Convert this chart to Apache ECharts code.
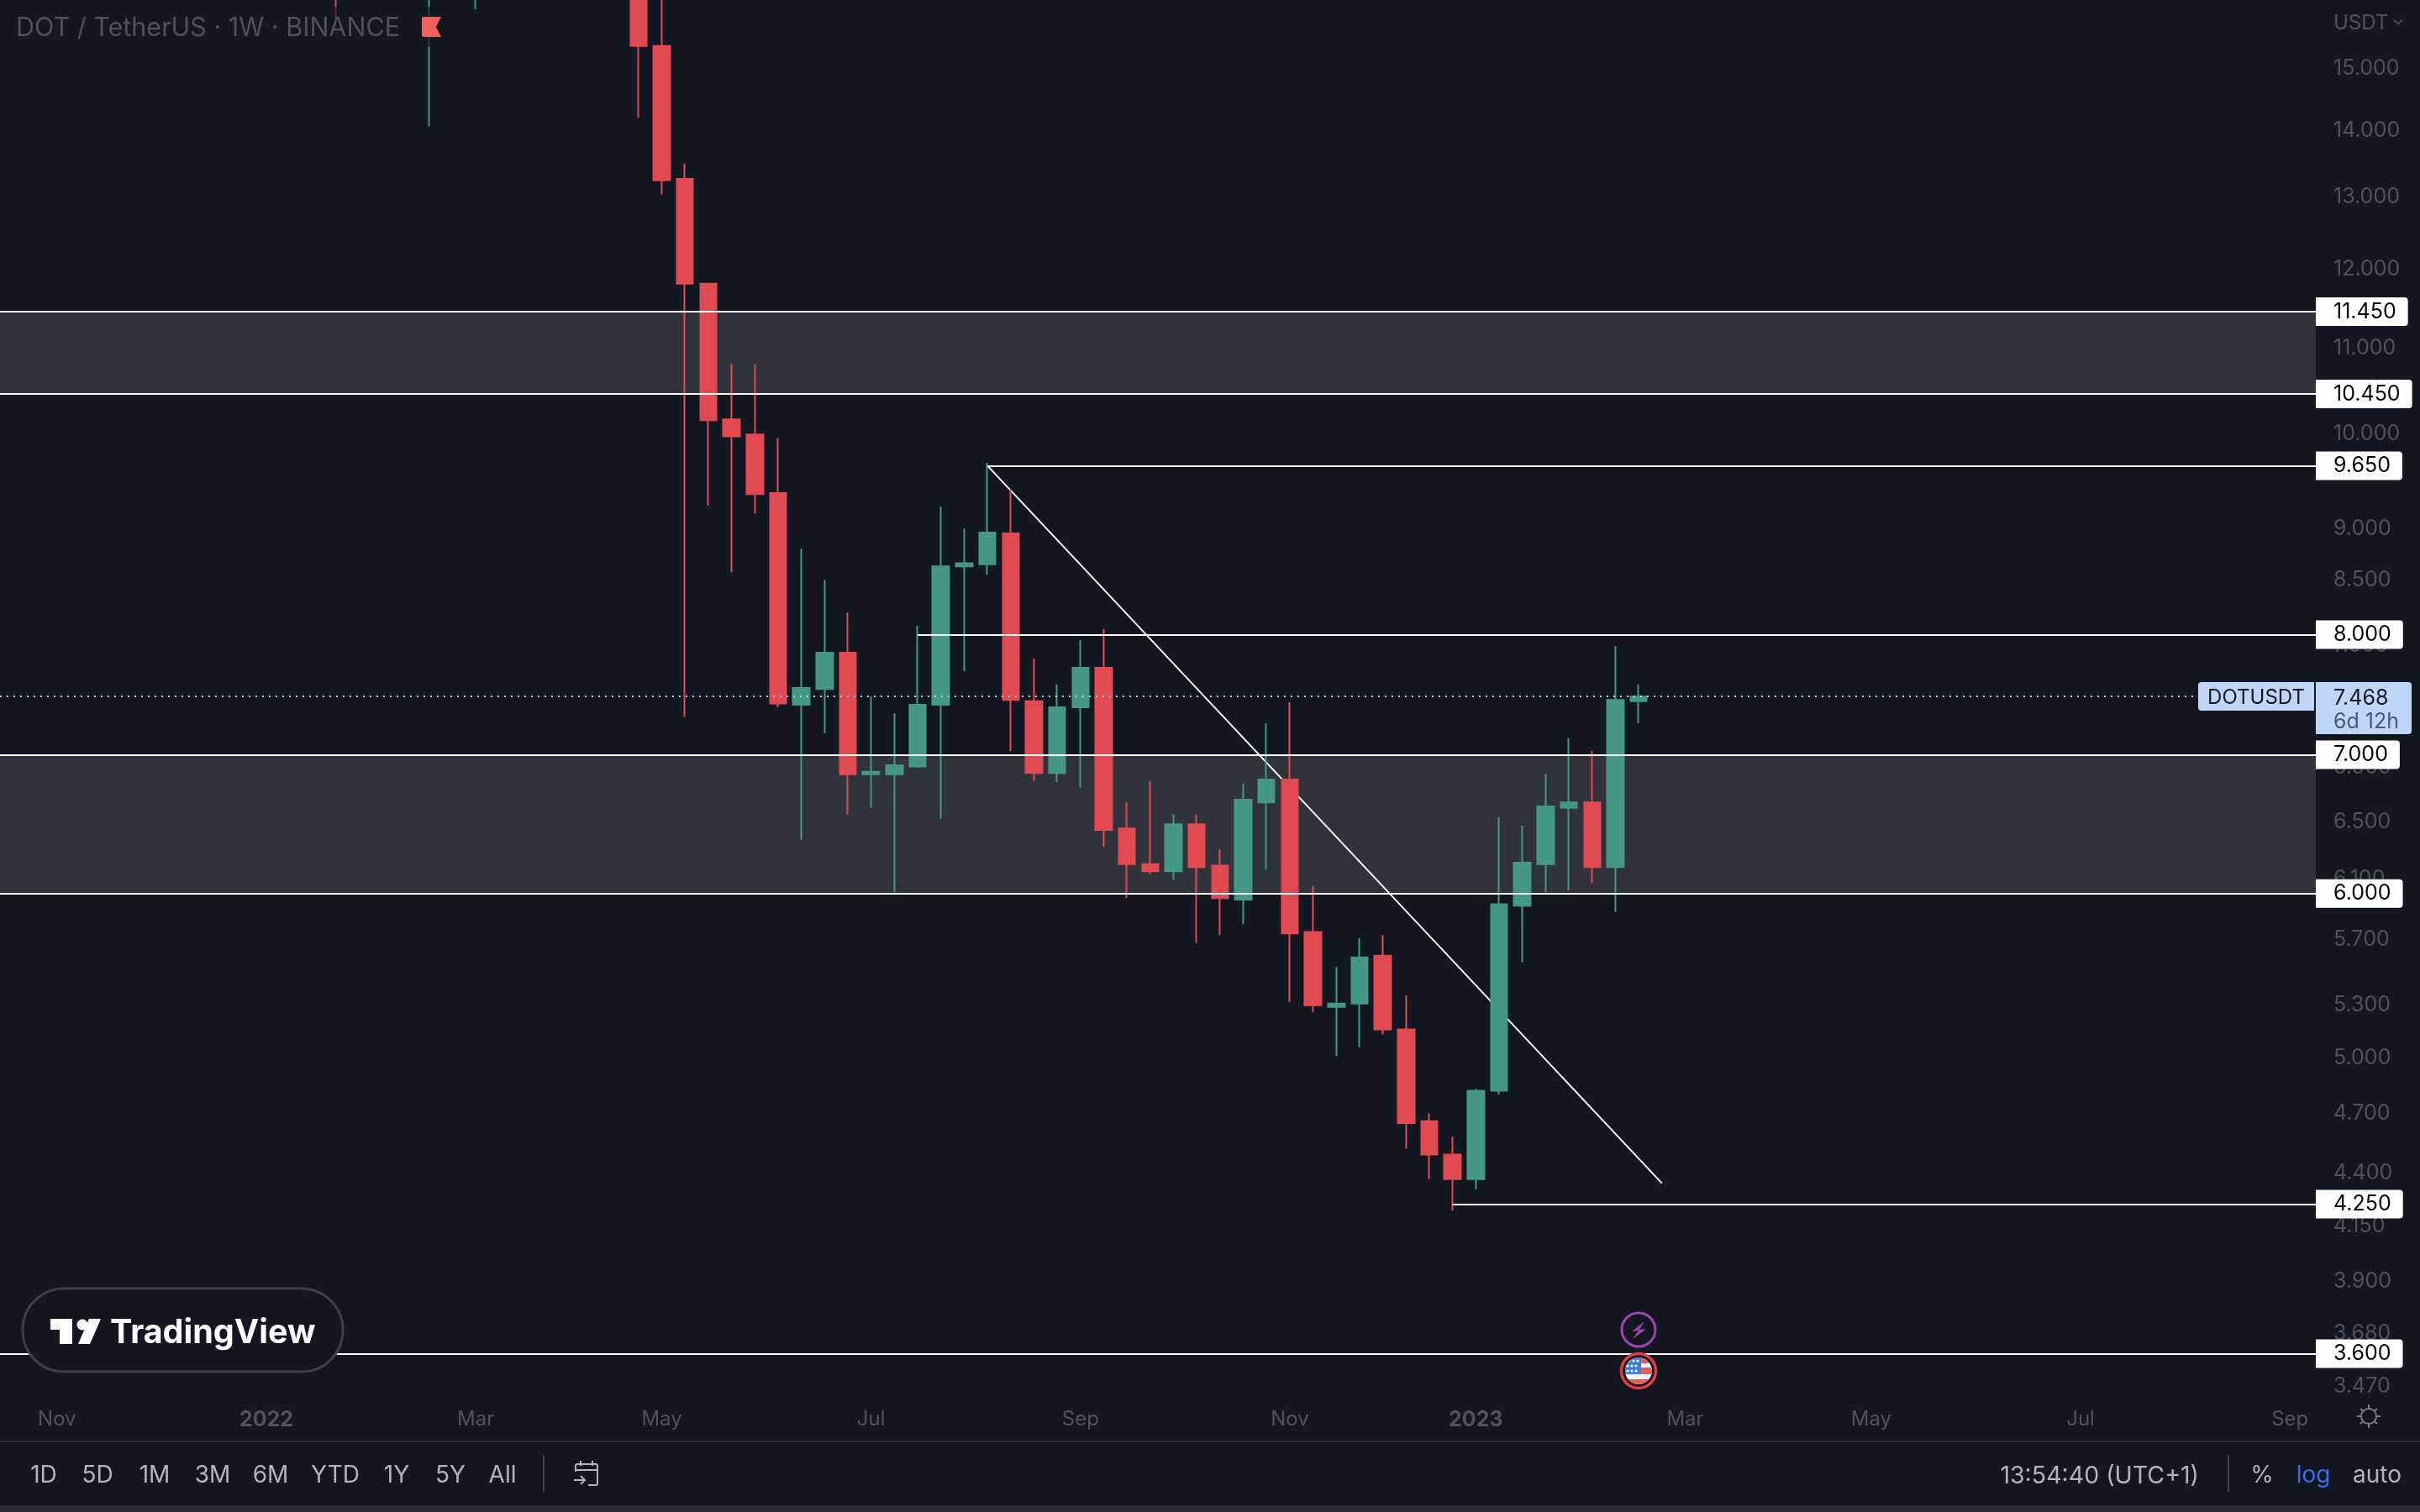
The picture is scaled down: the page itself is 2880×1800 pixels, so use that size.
<!DOCTYPE html>
<html>
<head>
<meta charset="utf-8">
<title>DOT / TetherUS 1W</title>
<script src="https://cdn.jsdelivr.net/npm/echarts@6/dist/echarts.min.js"></script>
<style>
    html, body { margin: 0; padding: 0; background: #131722; }
    #chart { width: 2880px; height: 1800px; }
</style>
</head>
<body>
<div id="chart"></div>
<script>
// weekly bars that show in the window (bars between Mar and late Apr 2022 sit above the top edge)
const weeks = ['2022-01-24', '2022-02-21', '2022-03-07', '2022-04-25', '2022-05-02', '2022-05-09', '2022-05-16', '2022-05-23',
    '2022-05-30', '2022-06-06', '2022-06-13', '2022-06-20', '2022-06-27', '2022-07-04', '2022-07-11', '2022-07-18',
    '2022-07-25', '2022-08-01', '2022-08-08', '2022-08-15', '2022-08-22', '2022-08-29', '2022-09-05', '2022-09-12',
    '2022-09-19', '2022-09-26', '2022-10-03', '2022-10-10', '2022-10-17', '2022-10-24', '2022-10-31', '2022-11-07',
    '2022-11-14', '2022-11-21', '2022-11-28', '2022-12-05', '2022-12-12', '2022-12-19', '2022-12-26', '2023-01-02',
    '2023-01-09', '2023-01-16', '2023-01-23', '2023-01-30', '2023-02-06', '2023-02-13', '2023-02-20'];
const opens = [18.5, 17.0, 17.2, 17.5, 15.38, 13.27, 11.81, 10.16,
    9.99, 9.36, 7.40, 7.53, 7.84, 6.85, 6.85, 6.91,
    7.40, 8.63, 8.65, 8.95, 7.43, 6.86, 7.38, 7.71,
    6.45, 6.20, 6.15, 6.48, 6.19, 5.96, 6.64, 6.81,
    5.75, 5.29, 5.31, 5.60, 5.16, 4.66, 4.49, 4.37,
    4.82, 5.92, 6.20, 6.60, 6.64, 6.18, 7.43];
const closes = [17.2, 18.0, 18.5, 15.38, 13.25, 11.81, 10.15, 9.97,
    9.35, 7.41, 7.54, 7.84, 6.85, 6.87, 6.92, 7.40,
    8.63, 8.66, 8.96, 7.44, 6.86, 7.38, 7.71, 6.44,
    6.20, 6.15, 6.48, 6.18, 5.97, 6.66, 6.81, 5.74,
    5.30, 5.31, 5.59, 5.16, 4.65, 4.49, 4.37, 4.82,
    5.93, 6.21, 6.61, 6.64, 6.18, 7.44, 7.468];
const lows = [15.85, 14.07, 16.02, 14.20, 13.04, 7.30, 9.23, 8.57,
    9.15, 7.38, 6.37, 7.17, 6.55, 6.60, 6.01, 6.90,
    6.52, 7.68, 8.55, 7.03, 6.80, 6.79, 6.75, 6.32,
    5.97, 6.13, 6.09, 5.68, 5.73, 5.80, 6.16, 5.32,
    5.26, 5.01, 5.06, 5.13, 4.52, 4.37, 4.22, 4.32,
    4.80, 5.56, 6.01, 6.02, 6.07, 5.88, 7.25];
const highs = [19.0, 19.0, 19.0, 18.5, 16.8, 13.50, 11.81, 10.81,
    10.80, 9.95, 8.80, 8.50, 8.20, 7.47, 7.33, 8.08,
    9.22, 9.00, 9.68, 9.40, 7.79, 7.57, 7.95, 8.05,
    6.64, 6.80, 6.55, 6.55, 6.30, 6.78, 7.25, 7.42,
    6.05, 5.53, 5.71, 5.73, 5.36, 4.70, 4.58, 4.83,
    6.53, 6.47, 6.85, 7.13, 7.03, 7.90, 7.57];

const lastPrice = 7.468;

// price axis labels
const priceTicks = [15, 14, 13, 12, 11, 10, 9, 8.5, 7.9, 6.9, 6.5, 6.1, 5.7, 5.3, 5, 4.7, 4.4, 4.15, 3.9, 3.68, 3.47];

// time axis labels
const timeTickDates = ['2021-11-01', '2022-01-03', '2022-03-07', '2022-05-02', '2022-07-04', '2022-09-05',
    '2022-11-07', '2023-01-02', '2023-03-06', '2023-05-01', '2023-07-03', '2023-09-04'];
const timeTickLabels = ['Nov', '2022', 'Mar', 'May', 'Jul', 'Sep', 'Nov', '2023', 'Mar', 'May', 'Jul', 'Sep'];

// horizontal levels: price and the week each line starts from (null = from the left edge)
const levelPrices = [11.45, 10.45, 9.65, 8, 7, 6, 4.25, 3.6];
const levelStarts = [null, null, '2022-08-08', '2022-07-18', null, null, '2022-12-26', null];

// shaded zones
const zones = [[10.45, 11.45], [6, 7]];

// trend line
const trendDates = ['2022-08-08', '2023-02-27'];
const trendPrices = [9.65, 4.35];

const timeOf = (day) => Date.parse(day + 'T00:00:00Z');
const viewStart = Date.parse('2021-10-14T20:10:00Z');
const viewEnd = Date.parse('2023-09-11T19:00:00Z');

const BG = '#131722';
const DIM = '#50535e';
const TOOL = '#b2b5be';
const UP = '#459883';
const DOWN = '#e04a50';
const FONT = 'Inter, "Noto Sans", sans-serif';

function svgUrl(body, w, h) {
    const svg = `<svg xmlns="http://www.w3.org/2000/svg" width="${w}" height="${h}" viewBox="0 0 ${w} ${h}">${body}</svg>`;
    return 'data:image/svg+xml;charset=utf-8,' + encodeURIComponent(svg);
}

function uiIcon(body, x, y, w, h) {
    return { type: 'image', z: 110, style: { image: svgUrl(body, w, h), x: x, y: y, width: w, height: h } };
}

function uiText(text, x, y, color, size, align, weight) {
    return {
        type: 'text', z: 110,
        style: {
            text: text, x: x, y: y, fill: color, align: align || 'left', verticalAlign: 'middle',
            font: `${weight || 400} ${size}px ${FONT}`
        }
    };
}

function uiRect(x, y, w, h, fill, r, z) {
    return { type: 'rect', z: z || 100, shape: { x: x, y: y, width: w, height: h, r: r || 0 }, style: { fill: fill } };
}

const gearIcon = '<g fill="none" stroke="#787b86" stroke-width="2"><circle cx="15" cy="15" r="9"/>'
    + '<path d="M15 1v5M15 24v5M1 15h5M24 15h5M5 6l4 3.500M25 6l-4 3.500M5 24l4-3.500M25 24l-4-3.500"/></g>';
const calendarIcon = '<g fill="none" stroke="#b2b5be" stroke-width="2"><path d="M3 13V6a2 2 0 0 1 2-2h22a2 2 0 0 1 2 2v21a2 2 0 0 1-2 2h-9"/>'
    + '<path d="M3 11h26M9 0v6M23 0v6M1 23h13M9 18l5 5-5 5"/></g>';
const boltIcon = '<circle cx="23" cy="23" r="20" fill="#131722" stroke="#9c45b0" stroke-width="3"/>'
    + '<path d="M30 13L15 25L23 24L16 34L32 22L24 23Z" fill="#9c45b0"/>';
const flagIcon = '<defs><clipPath id="c"><circle cx="24" cy="24" r="16"/></clipPath></defs>'
    + '<circle cx="24" cy="24" r="20.500" fill="#131722" stroke="#e03c42" stroke-width="3.500"/>'
    + '<g clip-path="url(#c)"><rect width="48" height="48" fill="#f2f2f2"/>'
    + '<rect x="8" y="9" width="32" height="6" fill="#e0605a"/><rect x="8" y="20" width="32" height="8" fill="#e0605a"/>'
    + '<rect x="8" y="34" width="32" height="6" fill="#e0605a"/><rect x="8" y="8" width="19" height="20" fill="#3d7fdd"/>'
    + '<g fill="#fff"><circle cx="13" cy="12" r="1.600"/><circle cx="18" cy="12" r="1.600"/><circle cx="23" cy="12" r="1.600"/>'
    + '<circle cx="11" cy="18" r="1.600"/><circle cx="16" cy="18" r="1.600"/><circle cx="21" cy="18" r="1.600"/>'
    + '<circle cx="11" cy="24" r="1.600"/><circle cx="16" cy="24" r="1.600"/><circle cx="21" cy="24" r="1.600"/></g></g>';
const flagMark = '<path d="M0 2a2 2 0 0 1 2-2h21l-6 12 6 12H2a2 2 0 0 1-2-2Z" fill="#f0605a"/>';
const tvLogo = '<g fill="#fff"><path d="M0 0H26V30H11V13H0Z"/><circle cx="38" cy="7" r="6.500"/><path d="M46 0H60L47 30H33Z"/></g>';

// screen chrome around the chart (toolbar, watermark, legend, last-price tag)
const toolbarNames = ['1D', '5D', '1M', '3M', '6M', 'YTD', '1Y', '5Y', 'All'];
const toolbarCenters = [52, 116, 184, 253, 322, 399, 472, 536, 598];

const chrome = [
    // legend backdrop dims whatever runs under the title
    uiRect(0, 8, 532, 48, 'rgba(19,23,34,0.65)', 0, 90),
    uiText('DOT / TetherUS · 1W · BINANCE', 19, 34, '#4f525d', 30.5),
    uiIcon(flagMark, 502, 20, 24, 24),
    uiText('USDT', 2777, 28, '#4f525d', 24),
    { type: 'polyline', z: 110, shape: { points: [[2849, 24], [2854, 28], [2859, 24]] }, style: { stroke: '#4f525d', lineWidth: 2, fill: null } },
    // the price scale is cut off where the time scale begins
    uiRect(2756, 1658, 124, 57, BG),
    uiIcon(gearIcon, 2804, 1671, 30, 30),
    // bottom toolbar
    uiRect(0, 1715, 2880, 2, '#2a2e39'),
    uiRect(0, 1717, 2880, 75, BG),
    uiRect(0, 1792, 2880, 8, '#2a2d38'),
    uiRect(646, 1732, 2, 44, '#434651'),
    uiRect(2651, 1732, 2, 44, '#434651'),
    uiIcon(calendarIcon, 682, 1739, 32, 30),
    uiText('13:54:40 (UTC+1)', 2617, 1757, TOOL, 28.500, 'right'),
    uiText('%', 2692, 1757, TOOL, 28, 'center'),
    uiText('log', 2753, 1757, '#3a6be8', 28, 'center'),
    uiText('auto', 2829, 1757, TOOL, 28, 'center'),
    // watermark
    { type: 'rect', z: 100, shape: { x: 27, y: 1534, width: 381, height: 99, r: 49 }, style: { fill: BG, stroke: '#3d3f49', lineWidth: 3 } },
    uiIcon(tvLogo, 60, 1570, 60, 30),
    uiText('TradingView', 131, 1587, '#ffffff', 39.5, 'left', 700),
    // last price tag
    uiRect(2616, 812, 138, 34, '#bfd6f8', [4, 0, 0, 4]),
    uiRect(2756, 812, 114, 62, '#bfd6f8', [0, 4, 4, 0]),
    uiText('DOTUSDT', 2685, 831, '#131722', 24, 'center'),
    uiText(lastPrice.toFixed(3), 2777, 831, '#131722', 25),
    uiText('6d 12h', 2777, 859, '#4a5a72', 25),
    // event markers
    uiIcon(boltIcon, 1927, 1560, 46, 46),
    uiIcon(flagIcon, 1926, 1608, 48, 48)
];
toolbarNames.forEach((name, i) => {
    chrome.push(uiText(name, toolbarCenters[i], 1757, TOOL, 28, 'center'));
});

const candleData = weeks.map((day, i) => [timeOf(day), opens[i], closes[i], lows[i], highs[i]]);

const levelLines = levelPrices.map((price, i) => {
    const start = levelStarts[i] ? timeOf(levelStarts[i]) : viewStart;
    return [{ name: price.toFixed(3), coord: [start, price] }, { coord: [viewEnd, price] }];
});

const chart = echarts.init(document.getElementById('chart'), null, { renderer: 'canvas' });

chart.setOption({
    backgroundColor: BG,
    animation: false,
    textStyle: { fontFamily: FONT },
    grid: { left: 0, top: 0, width: 2756, height: 1658 },
    xAxis: {
        type: 'value',
        min: viewStart,
        max: viewEnd,
        splitLine: { show: false },
        axisLine: { show: false },
        axisTick: { show: false },
        axisLabel: {
            customValues: timeTickDates.map(timeOf),
            margin: 20,
            color: DIM,
            fontSize: 24,
            fontFamily: FONT,
            formatter: function (value) {
                const label = timeTickLabels[timeTickDates.map(timeOf).indexOf(value)] || '';
                return /^\d+$/.test(label) ? `{year|${label}}` : label;
            },
            rich: { year: { color: DIM, fontSize: 25, fontWeight: 700, fontFamily: FONT } }
        }
    },
    yAxis: {
        type: 'log',
        position: 'right',
        min: 3.447,
        max: 16.185,
        splitLine: { show: false },
        axisLine: { show: false },
        axisTick: { show: false },
        axisLabel: {
            customValues: priceTicks,
            margin: 21,
            padding: [6, 0, 0, 0],
            align: 'left',
            color: DIM,
            fontSize: 25,
            fontFamily: FONT,
            formatter: (value) => value.toFixed(3)
        }
    },
    series: [
        {
            // shaded zones
            type: 'line',
            z: 1,
            silent: true,
            data: [],
            markArea: {
                silent: true,
                itemStyle: { color: '#30333b' },
                data: zones.map((zone) => [{ yAxis: zone[0] }, { yAxis: zone[1] }])
            }
        },
        {
            // trend line
            type: 'line',
            z: 2,
            silent: true,
            showSymbol: false,
            lineStyle: { color: '#ffffff', width: 2 },
            data: trendDates.map((day, i) => [timeOf(day), trendPrices[i]])
        },
        {
            // levels with their white price tags
            type: 'line',
            z: 2,
            silent: true,
            data: [],
            markLine: {
                silent: true,
                symbol: 'none',
                lineStyle: { color: '#ffffff', width: 2, type: 'solid' },
                label: {
                    show: true,
                    position: 'end',
                    distance: 0,
                    formatter: '{b}',
                    color: '#000000',
                    fontSize: 25,
                    fontFamily: FONT,
                    lineHeight: 24,
                    backgroundColor: '#ffffff',
                    padding: [8, 14, 2, 21],
                    borderRadius: [0, 4, 4, 0]
                },
                data: levelLines
            }
        },
        {
            type: 'candlestick',
            z: 3,
            silent: true,
            barWidth: 20,
            itemStyle: { color: UP, color0: DOWN, borderColor: UP, borderColor0: DOWN, borderWidth: 2 },
            data: candleData
        },
        {
            // dotted last price line runs over the candles
            type: 'line',
            z: 4,
            silent: true,
            data: [],
            markLine: {
                silent: true,
                symbol: 'none',
                label: { show: false },
                lineStyle: { color: '#bcd4f7', width: 2, type: [2, 6] },
                data: [[{ coord: [viewStart, lastPrice] }, { coord: [viewEnd, lastPrice] }]]
            }
        }
    ],
    graphic: { elements: chrome }
});
</script>
</body>
</html>
